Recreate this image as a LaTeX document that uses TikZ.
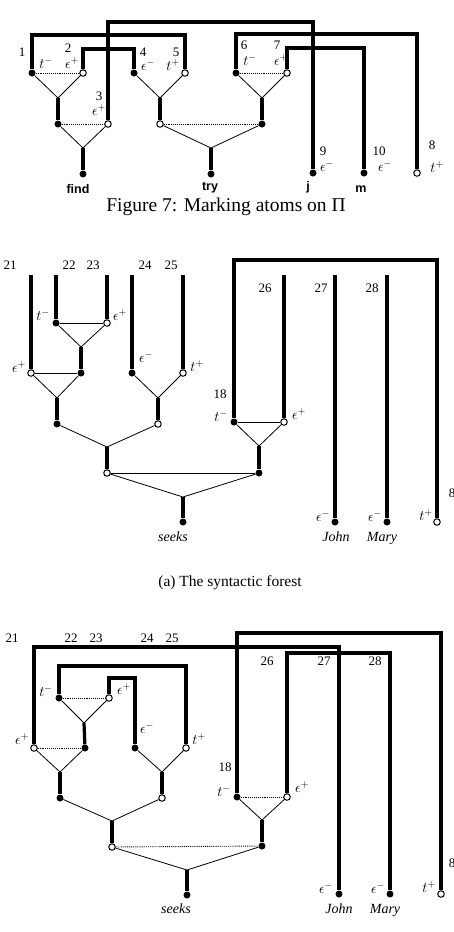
\documentclass[tikz,border=0pt]{standalone}
\usepackage{fontspec}
\setmainfont{Liberation Serif}
\newfontfamily\lsans{Liberation Sans}
\begin{document}
\begin{tikzpicture}[x=1pt,y=-1pt,
  fc/.style={circle,fill=black,inner sep=0pt,minimum size=7pt},
  oc/.style={circle,draw=black,fill=white,line width=1pt,inner sep=0pt,minimum size=6.5pt},
  thk/.style={line width=3.2pt},
  thn/.style={line width=0.8pt},
  dotl/.style={line width=0.9pt,densely dotted},
  num/.style={font=\fontsize{13}{15}\selectfont,inner sep=0pt},
  lab/.style={font=\fontsize{14}{16}\selectfont,inner sep=0pt},
  wrd/.style={font=\lsans\bfseries\fontsize{12.5}{14}\selectfont,inner sep=0pt,anchor=base},
  itw/.style={font=\itshape\fontsize{14}{16}\selectfont,inner sep=0pt,anchor=base},
  captext/.style={inner sep=0pt,anchor=base}]
\useasboundingbox (0,0) rectangle (454,932);

% ================= TOP FIGURE =================
\node[fc] (a1) at (32,73) {};
\node[oc] (a2) at (83,73) {};
\node[fc] (aL) at (58,124) {};
\node[oc] (a3) at (108,124) {};
\node[fc] (a4) at (134,73) {};
\node[oc] (a5) at (185,73) {};
\node[oc] (aM) at (160,124) {};
\node[fc] (a6) at (236,73) {};
\node[oc] (a7) at (287,73) {};
\node[fc] (aR) at (262,124) {};
\node[fc] (a9) at (313,173) {};
\node[fc] (a10) at (364,173) {};
\node[oc] (a8) at (417,173) {};
\node[fc] (afind) at (83,174) {};
\node[fc] (atry) at (211,174) {};
\coordinate (p1) at (58,98);
\coordinate (p2) at (83,148);
\coordinate (p3) at (160,98);
\coordinate (p4) at (262,98);
\coordinate (p5) at (211,148);
\coordinate (h1) at (200,22);
\coordinate (h2) at (100,35);
\coordinate (h3) at (110,49);
\coordinate (h4) at (300,34);
\coordinate (h5) at (320,48);

\draw[thn] (a1) -- (p1) -- (a2);
\draw[dotl] (a1) -- (a2);
\draw[thk] (p1) -- (aL);
\draw[thn] (aL) -- (p2) -- (a3);
\draw[dotl] (aL) -- (a3);
\draw[thk] (p2) -- (afind);
\draw[thn] (a4) -- (p3) -- (a5);
\draw[thk] (p3) -- (aM);
\draw[thn] (aM) -- (p5) -- (aR);
\draw[dotl] (aM) -- (aR);
\draw[thk] (p5) -- (atry);
\draw[thn] (a6) -- (p4) -- (a7);
\draw[dotl] (a6) -- (a7);
\draw[thk] (p4) -- (aR);

\draw[thk] (a3) |- (h1) -| (a9);
\draw[thk] (a1) |- (h2) -| (a5);
\draw[thk] (a2) |- (h3) -| (a4);
\draw[thk] (a6) |- (h4) -| (a8);
\draw[thk] (a7) |- (h5) -| (a10);

\node[num] (l1) at (22,52) {1};
\node[num] (l2) at (68,48) {2};
\node[num] (l3) at (99,96) {3};
\node[num] (l4) at (143,52) {4};
\node[num] (l5) at (176,52) {5};
\node[num] (l6) at (244,45) {6};
\node[num] (l7) at (277,45) {7};
\node[num] (l9) at (323,151) {9};
\node[num] (l10) at (379,151) {10};
\node[num] (l8) at (432,145) {8};
\node[lab] (m1) at (46,63) {$t^-$};
\node[lab] (m2) at (72,63) {$\epsilon^+$};
\node[lab] (m3) at (99,110) {$\epsilon^+$};
\node[lab] (m4) at (148,65) {$\epsilon^-$};
\node[lab] (m5) at (173,65) {$t^+$};
\node[lab] (m6) at (250,60) {$t^-$};
\node[lab] (m7) at (281,60) {$\epsilon^+$};
\node[lab] (m9) at (327,166) {$\epsilon^-$};
\node[lab] (m10) at (385,166) {$\epsilon^-$};
\node[lab] (m8) at (437,167) {$t^+$};
\node[wrd] (wfind) at (78,193) {find};
\node[wrd] (wtry) at (210,190) {try};
\node[wrd] (wj) at (308,190) {j};
\node[wrd] (wm) at (361,192) {m};
\node[captext,font=\fontsize{19.5}{22}\selectfont] (cap1) at (226,211) {Figure 7: Marking atoms on Π};

% ================= MIDDLE FIGURE =================
\node[fc] (b22) at (56,323) {};
\node[oc] (b23) at (107,323) {};
\node[oc] (b21) at (31,373) {};
\node[fc] (bA) at (81,373) {};
\node[fc] (b24) at (132,373) {};
\node[oc] (b25) at (183,373) {};
\node[fc] (bB) at (57,424) {};
\node[oc] (bC) at (158,424) {};
\node[oc] (bD) at (107,473) {};
\node[fc] (bE) at (259,473) {};
\node[fc] (b18) at (234,422) {};
\node[oc] (b26) at (284,422) {};
\node[fc] (bs) at (183,522) {};
\node[fc] (bJ) at (335,522) {};
\node[fc] (bM) at (387,522) {};
\node[oc] (b8) at (437,522) {};
\coordinate (q1) at (81,347);
\coordinate (q2) at (57,398);
\coordinate (q3) at (158,398);
\coordinate (q4) at (107,447);
\coordinate (q5) at (259,446);
\coordinate (q6) at (183,497);
\coordinate (t21) at (31,275);
\coordinate (t22) at (56,275);
\coordinate (t23) at (107,275);
\coordinate (t24) at (132,275);
\coordinate (t25) at (183,275);
\coordinate (t26) at (284,275);
\coordinate (t27) at (335,275);
\coordinate (t28) at (387,275);
\coordinate (h6) at (330,260);

\draw[thn] (b22) -- (q1) -- (b23);
\draw[thn] (b22) -- (b23);
\draw[thk] (q1) -- (bA);
\draw[thn] (b21) -- (q2) -- (bA);
\draw[thn] (b21) -- (bA);
\draw[thk] (q2) -- (bB);
\draw[thn] (b24) -- (q3) -- (b25);
\draw[thk] (q3) -- (bC);
\draw[thn] (bB) -- (q4) -- (bC);
\draw[thk] (q4) -- (bD);
\draw[thn] (b18) -- (q5) -- (b26);
\draw[thn] (b18) -- (b26);
\draw[thk] (q5) -- (bE);
\draw[thn] (bD) -- (q6) -- (bE);
\draw[thn] (bD) -- (bE);
\draw[thk] (q6) -- (bs);

\draw[thk] (t21) -- (b21);
\draw[thk] (t22) -- (b22);
\draw[thk] (t23) -- (b23);
\draw[thk] (t24) -- (b24);
\draw[thk] (t25) -- (b25);
\draw[thk] (t26) -- (b26);
\draw[thk] (t27) -- (bJ);
\draw[thk] (t28) -- (bM);
\draw[thk] (b18) |- (h6) -| (b8);

\node[num] (n21) at (10,265) {21};
\node[num] (n22) at (69,265) {22};
\node[num] (n23) at (93,265) {23};
\node[num] (n24) at (145,265) {24};
\node[num] (n25) at (171,265) {25};
\node[num] (n26) at (265,288) {26};
\node[num] (n27) at (321,288) {27};
\node[num] (n28) at (372,288) {28};
\node[num] (n18) at (220,394) {18};
\node[num] (n8) at (452,493) {8};
\node[lab] (k22) at (43,315) {$t^-$};
\node[lab] (k23) at (120,315) {$\epsilon^+$};
\node[lab] (k21) at (19,367) {$\epsilon^+$};
\node[lab] (k24) at (146,357) {$\epsilon^-$};
\node[lab] (k25) at (197,366) {$t^+$};
\node[lab] (k18) at (221,416) {$t^-$};
\node[lab] (k26) at (299,414) {$\epsilon^+$};
\node[lab] (kJ) at (323,516) {$\epsilon^-$};
\node[lab] (kM) at (375,516) {$\epsilon^-$};
\node[lab] (k8) at (426,515) {$t^+$};
\node[itw] (ws1) at (173,541) {seeks};
\node[itw] (wJ1) at (336,541) {John};
\node[itw] (wM1) at (382,541) {Mary};
\node[captext,font=\fontsize{15.5}{18}\selectfont] (cap2) at (230,586) {(a) The syntactic forest};

% ================= BOTTOM FIGURE =================
\node[fc] (c22) at (59,698) {};
\node[oc] (c23) at (109,698) {};
\node[oc] (c21) at (34,748) {};
\node[fc] (cA) at (85,748) {};
\node[fc] (c24) at (135,748) {};
\node[oc] (c25) at (186,748) {};
\node[fc] (cB) at (60,798) {};
\node[oc] (cC) at (162,798) {};
\node[oc] (cD) at (112,847) {};
\node[fc] (cE) at (262,846) {};
\node[fc] (c18) at (237,797) {};
\node[oc] (c26) at (287,797) {};
\node[fc] (cs) at (187,895) {};
\node[fc] (cJ) at (339,894) {};
\node[fc] (cM) at (390,894) {};
\node[oc] (c8) at (441,894) {};
\coordinate (r1) at (84,723);
\coordinate (r2) at (60,772);
\coordinate (r3) at (162,772);
\coordinate (r4) at (112,821);
\coordinate (r5) at (262,820);
\coordinate (r6) at (187,870);
\coordinate (h7) at (200,647);
\coordinate (h8) at (120,666);
\coordinate (h9) at (120,678);
\coordinate (h10) at (300,633);
\coordinate (h11) at (330,653);

\draw[thn] (c22) -- (r1) -- (c23);
\draw[dotl] (c22) -- (c23);
\draw[thk] (r1) -- (cA);
\draw[thn] (c21) -- (r2) -- (cA);
\draw[dotl] (c21) -- (cA);
\draw[thk] (r2) -- (cB);
\draw[thn] (c24) -- (r3) -- (c25);
\draw[thk] (r3) -- (cC);
\draw[thn] (cB) -- (r4) -- (cC);
\draw[thk] (r4) -- (cD);
\draw[thn] (c18) -- (r5) -- (c26);
\draw[dotl] (c18) -- (c26);
\draw[thk] (r5) -- (cE);
\draw[thn] (cD) -- (r6) -- (cE);
\draw[dotl] (cD) -- (cE);
\draw[thk] (r6) -- (cs);

\draw[thk] (c21) |- (h7) -| (cJ);
\draw[thk] (c22) |- (h8) -| (c25);
\draw[thk] (c23) |- (h9) -| (c24);
\draw[thk] (c18) |- (h10) -| (c8);
\draw[thk] (c26) |- (h11) -| (cM);

\node[num] (o21) at (12,638) {21};
\node[num] (o22) at (71,638) {22};
\node[num] (o23) at (96,638) {23};
\node[num] (o24) at (147,638) {24};
\node[num] (o25) at (172,638) {25};
\node[num] (o26) at (267,661) {26};
\node[num] (o27) at (324,661) {27};
\node[num] (o28) at (375,661) {28};
\node[num] (o18) at (225,767) {18};
\node[num] (o8) at (452,863) {8};
\node[lab] (g22) at (46,691) {$t^-$};
\node[lab] (g23) at (124,689) {$\epsilon^+$};
\node[lab] (g21) at (22,739) {$\epsilon^+$};
\node[lab] (g24) at (147,728) {$\epsilon^-$};
\node[lab] (g25) at (199,739) {$t^+$};
\node[lab] (g18) at (224,791) {$t^-$};
\node[lab] (g26) at (302,787) {$\epsilon^+$};
\node[lab] (gJ) at (326,888) {$\epsilon^-$};
\node[lab] (gM) at (378,888) {$\epsilon^-$};
\node[lab] (g8) at (429,887) {$t^+$};
\node[itw] (ws2) at (176,913) {seeks};
\node[itw] (wJ2) at (339,913) {John};
\node[itw] (wM2) at (385,913) {Mary};
\end{tikzpicture}
\end{document}
